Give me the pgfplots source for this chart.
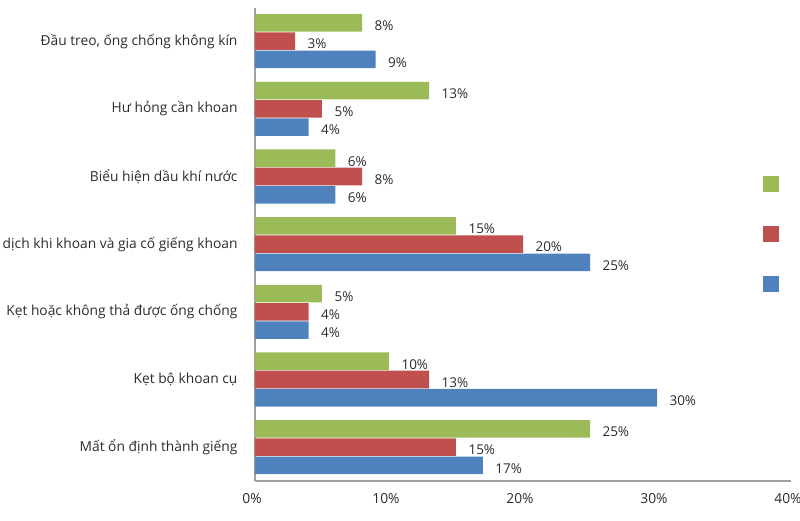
\documentclass[border=0pt]{standalone}
\usepackage{pgfplots}
\pgfplotsset{compat=1.18}
\usepackage{fontspec}
\setmainfont{Open Sans}
\definecolor{cgreen}{HTML}{9BBB59}
\definecolor{cred}{HTML}{C0504D}
\definecolor{cblue}{HTML}{4F81BD}
\definecolor{txt}{HTML}{2B2B2B}
\definecolor{axl}{HTML}{A0A0A0}

\begin{document}
\begin{tikzpicture}
\begin{axis}[
  name=ax,
  scale only axis, width=536pt, height=473pt,
  xmin=0, xmax=40, ymin=-0.49, ymax=6.5, y dir=reverse,
  xbar, bar width=0.26,
  axis x line*=bottom, axis y line*=left,
  axis line style={axl, line width=1.1pt},
  xtick={0,10,20,30,40},
  xticklabel={\pgfmathprintnumber{\tick}\%},
  /pgf/number format/assume math mode=true,
  ytick={0,...,6},
  yticklabels={
    {Đầu treo, ống chống không kín},
    {Hư hỏng cần khoan\ },
    {Biểu hiện dầu khí nước},
    {dịch khi khoan và gia cố giếng khoan},
    {Kẹt hoặc không thả được ống chống},
    {Kẹt bộ khoan cụ},
    {Mất ổn định thành giếng}},
  major tick length=0pt,
  tick label style={font=\fontsize{13.8}{16}\selectfont, text=txt},
  yticklabel style={xshift=-14pt},
  xticklabel style={yshift=-9pt, xshift=-3pt},
  point meta=x,
  nodes near coords={\pgfmathprintnumber{\pgfplotspointmeta}\%},
  nodes near coords style={anchor=west, xshift=9pt, yshift=-3pt,
    font=\fontsize{13.5}{16}\selectfont, text=txt},
  legend image code/.code={\fill[#1] (0pt,-8pt) rectangle (16pt,8pt);},
  legend style={at={(axis cs:37.9,1.99)}, anchor=north west, draw=none,
    fill=none, inner sep=0pt, row sep=34pt, font=\fontsize{12.5}{15}\selectfont},
]
\addplot[fill=cgreen, draw=none, bar shift=-0.27] coordinates
  {(8,0) (13,1) (6,2) (15,3) (5,4) (10,5) (25,6)};
\addlegendentry{\phantom{X}}
\addplot[fill=cred, draw=none, bar shift=0] coordinates
  {(3,0) (5,1) (8,2) (20,3) (4,4) (13,5) (15,6)};
\addlegendentry{\phantom{X}}
\addplot[fill=cblue, draw=none, bar shift=0.27] coordinates
  {(9,0) (4,1) (6,2) (25,3) (4,4) (30,5) (17,6)};
\addlegendentry{\phantom{X}}
\end{axis}
\pgfresetboundingbox
\path ([shift={(-255pt,-39pt)}]ax.south west) rectangle ([shift={(9pt,8pt)}]ax.north east);
\end{tikzpicture}
\end{document}
